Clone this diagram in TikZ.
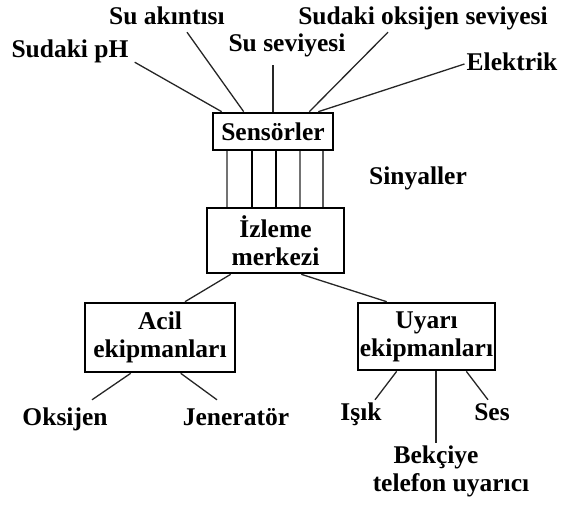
\documentclass[tikz,border=0pt]{standalone}
\usepackage{fontspec}
\setmainfont{Liberation Serif}
\usepackage{tikz}
\usetikzlibrary{positioning}

\begin{document}
\begin{tikzpicture}[
    x=1pt, y=-1pt,
    lbl/.style={font=\fontsize{25.5}{28}\selectfont\bfseries, inner sep=2pt, align=center},
    tag/.style={lbl, text height=18pt, text depth=6pt},
    unit/.style={lbl, draw, line width=2.6pt, inner sep=0pt},
    wire/.style={line width=1.3pt, black!85},
    sig/.style={line width=1.2pt}
]
\useasboundingbox (0,0) rectangle (563,506);

% Sensors and what they measure
\node[unit, minimum width=120, minimum height=37] (sens) at (273,131.5) {Sensörler};
\node[tag] (ph) at (70,51) {Sudaki pH};
\node[tag] (akim) at (167,18) {Su akıntısı};
\node[tag] (sev) at (287,46) {Su seviyesi};
\node[tag] (oks) at (423,18) {Sudaki oksijen seviyesi};
\node[tag] (elek) at (512,64) {Elektrik};

\draw[wire] ([xshift=4,yshift=3]ph.south east) -- ([xshift=10]sens.north west);
\draw[wire] ([xshift=20]akim.south) -- ([xshift=32]sens.north west);
\draw[wire] ([yshift=-5]sev.south -| sens.north) -- (sens.north);
\draw[wire] ([xshift=-35]oks.south) -- ([xshift=-25]sens.north east);
\draw[wire] (elek.west) -- ([xshift=-16]sens.north east);

% Monitoring centre and signal lines
\node[unit, minimum width=137, minimum height=65] (izle) at (275.5,240.5) {İzleme\\merkezi};
\node[tag] (sinyal) at (418,178) {Sinyaller};

\foreach \x/\c in {227/black!55, 252/black, 276/black, 300/black!55, 323/black!65}
    \draw[sig, \c] (sens.south -| \x,0) -- (izle.north -| \x,0);

% Equipment groups
\node[unit, minimum width=150, minimum height=69] (acil) at (160,337.5) {Acil\\ekipmanları};
\node[unit, minimum width=137, minimum height=67] (uyari) at (426.5,336.5) {Uyarı\\ekipmanları};

\draw[wire] ([xshift=25]izle.south west) -- ([xshift=25]acil.north);
\draw[wire] ([xshift=-44]izle.south east) -- ([xshift=30]uyari.north west);

% Emergency equipment
\node[tag] (oksijen) at (65,419) {Oksijen};
\node[tag] (jen) at (236,419) {Jeneratör};
\draw[wire] ([xshift=47]acil.south west) -- ([xshift=27,yshift=5]oksijen.north);
\draw[wire] ([xshift=97]acil.south west) -- ([xshift=-19,yshift=5]jen.north);

% Warning equipment
\node[tag] (isik) at (361,414) {Işık};
\node[tag] (ses) at (492,414) {Ses};
\node[lbl] (bekci) at (436,471) {Bekçiye\\\hspace*{30pt}telefon uyarıcı};
\draw[wire] ([xshift=40]uyari.south west) -- ([xshift=14]isik.north);
\draw[wire] (uyari.south -| 436,0) -- (bekci.north -| 436,0);
\draw[wire] ([xshift=-30]uyari.south east) -- ([xshift=-4]ses.north);

\end{tikzpicture}
\end{document}
